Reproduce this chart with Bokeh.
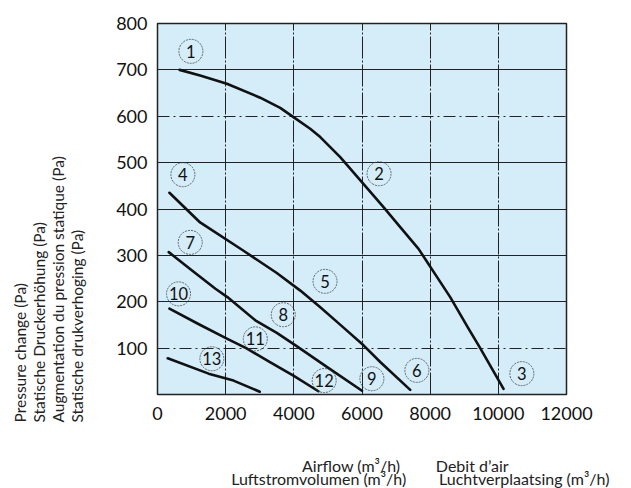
from bokeh.plotting import figure
from bokeh.models import FixedTicker, Grid, Title, LinearAxis
from bokeh.core.properties import value
from bokeh.embed import file_html
from bokeh.resources import INLINE

# ---- data ----
x_ticks = [0, 2000, 4000, 6000, 8000, 10000, 12000]
y_ticks = [100, 200, 300, 400, 500, 600, 700, 800]

curve_a_x = [650, 1250, 2036, 3013, 3600, 3991, 4480, 4776, 5361, 5997, 6631, 7122, 7659, 8588, 9126, 9468, 10153]
curve_a_y = [700, 688, 670, 640, 618, 598, 573, 555, 512, 458, 404, 361, 314, 210, 142, 100, 12]

curve_b_x = [350, 1250, 2524, 3500, 4190, 4776, 5400, 6045, 6535, 7415]
curve_b_y = [435, 371, 310, 262, 224, 188, 148, 106, 70, 10]

curve_c_x = [330, 1050, 1700, 2050, 2870, 3500, 4050, 5000, 6000]
curve_c_y = [307, 265, 228, 210, 160, 133, 106, 58, 8]

curve_d_x = [350, 1200, 2050, 2600, 3300, 4000, 4720]
curve_d_y = [185, 152, 120, 100, 70, 40, 7]

curve_e_x = [300, 1500, 2230, 3000]
curve_e_y = [78, 45, 30, 6]

label_text = ["1", "2", "3", "4", "5", "6", "7", "8", "9", "10", "11", "12", "13"]
label_x = [980, 6500, 10690, 745, 4915, 7610, 960, 3690, 6290, 617, 2870, 4890, 1595]
label_y = [740, 476, 45, 474, 244, 52, 328, 172, 34, 217, 120, 30, 77]

y_title_lines = ["Pressure change (Pa)", "Statische Druckerhöhung (Pa)",
                 "Augmentation du pression statique (Pa)", "Statische drukverhoging (Pa)"]
x_title_row1 = {5684: "Airflow (m³/h)", 9234: "Debit d\u2019air"}
x_title_row2 = {4730: "Luftstromvolumen (m³/h)", 10760: "Luchtverplaatsing (m³/h)"}

FONT = "Lato"
INK = "#111111"

p = figure(frame_width=409, frame_height=371,
           min_border_left=157, min_border_right=65,
           min_border_top=23, min_border_bottom=94,
           x_range=(0, 12000), y_range=(0, 800),
           output_backend="svg", toolbar_location=None)

p.border_fill_color = "white"
p.background_fill_color = "#d4edf9"
p.outline_line_color = "#222222"
p.outline_line_width = 1.5


def plain_axis(ax, size="18px"):
    ax.axis_line_color = None
    ax.major_tick_out = 0
    ax.major_tick_in = 0
    ax.minor_tick_out = 0
    ax.minor_tick_in = 0
    ax.major_label_text_font = FONT
    ax.major_label_text_font_size = size
    ax.major_label_text_color = INK


p.xaxis.ticker = FixedTicker(ticks=x_ticks)
p.yaxis.ticker = FixedTicker(ticks=y_ticks)
plain_axis(p.xaxis[0])
plain_axis(p.yaxis[0])
p.xaxis.major_label_standoff = 12
p.yaxis.major_label_standoff = 10

# x titles as two extra label rows under the axis
row1 = LinearAxis(ticker=FixedTicker(ticks=list(x_title_row1.keys())),
                  major_label_overrides=x_title_row1, major_label_standoff=33)
plain_axis(row1, "16px")
row1.major_label_text_color = "#222222"
p.add_layout(row1, "below")
row2 = LinearAxis(ticker=FixedTicker(ticks=list(x_title_row2.keys())),
                  major_label_overrides=x_title_row2, major_label_standoff=-9)
plain_axis(row2, "16px")
row2.major_label_text_color = "#222222"
p.add_layout(row2, "below")

# grids
p.xgrid.ticker = FixedTicker(ticks=[2000, 4000, 6000, 8000, 10000])
p.xgrid.grid_line_color = "#222222"
p.xgrid.grid_line_width = 1
p.xgrid.grid_line_dash = "22 2 2 2"
p.ygrid.ticker = FixedTicker(ticks=[200, 300, 400, 500, 700])
p.ygrid.grid_line_color = "#222222"
p.ygrid.grid_line_width = 1
dash_grid = Grid(dimension=1, ticker=FixedTicker(ticks=[100, 600]),
                 grid_line_color="#222222", grid_line_width=1,
                 grid_line_dash="12 4 2 4")
p.add_layout(dash_grid)

# curves
for xs, ys in [(curve_a_x, curve_a_y), (curve_b_x, curve_b_y), (curve_c_x, curve_c_y),
               (curve_d_x, curve_d_y), (curve_e_x, curve_e_y)]:
    p.line(xs, ys, line_color=INK, line_width=2.6, line_join="round", line_cap="round")

# circled labels
p.scatter(label_x, label_y, marker="circle", size=24, fill_color=None,
          line_color="#444444", line_width=0.8, line_dash="2 1")
p.text(label_x, label_y, text=label_text, text_align="center", text_baseline="middle",
       text_font=value(FONT), text_font_size="16.5px", text_color=INK)

# y title: one multi-line vertical block (trailing empty line keeps it off the tick labels)
p.add_layout(Title(text="\n".join(y_title_lines) + "\n", align="left", offset=-28, standoff=17,
                   text_font=FONT, text_font_size="15.5px", text_font_style="normal",
                   text_line_height=1.05, text_color="#222222"), "left")

open("out.html", "w").write(file_html(p, INLINE))
